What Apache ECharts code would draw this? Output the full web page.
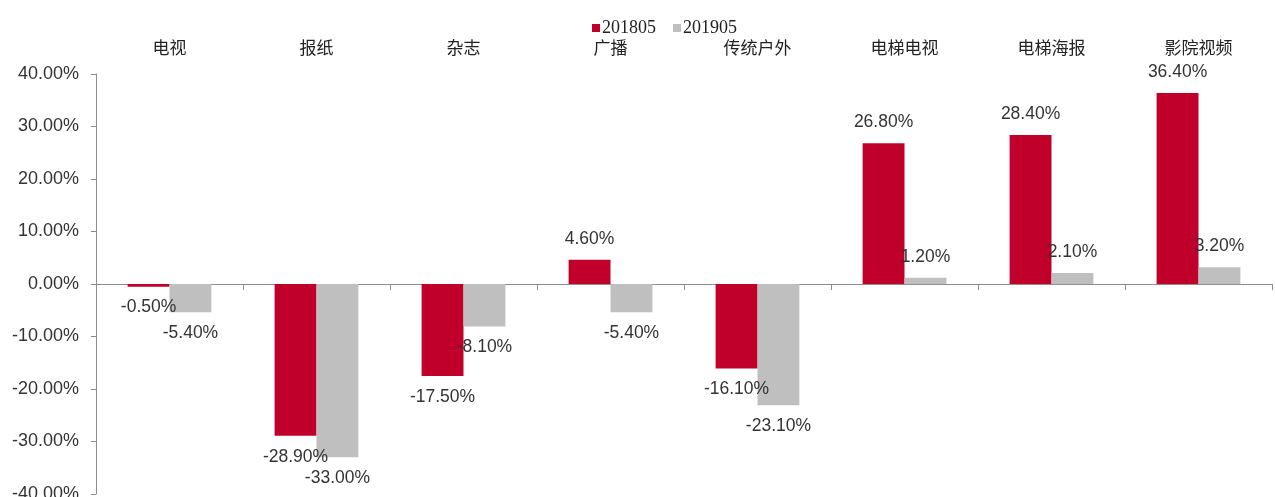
<!DOCTYPE html>
<html>
<head>
<meta charset="utf-8">
<script src="https://cdn.jsdelivr.net/npm/echarts@6/dist/echarts.min.js"></script>
<style>
  html, body { margin: 0; padding: 0; background: #fff; }
  #main { width: 1275px; height: 497px; }
</style>
</head>
<body>
<div id="main"></div>
<script>
// 类别
var categories = ["电视", "报纸", "杂志", "广播", "传统户外", "电梯电视", "电梯海报", "影院视频"];
// 同比增速 (%)
var val201805 = [-0.5, -28.9, -17.5, 4.6, -16.1, 26.8, 28.4, 36.4];
var val201905 = [-5.4, -33.0, -8.1, -5.4, -23.1, 1.2, 2.1, 3.2];
var yTicks = [-40, -30, -20, -10, 0, 10, 20, 30, 40];

// 正数标签在上，负数标签在下
function withLabel(arr) {
  return arr.map(function (v) {
    return { value: v, label: { position: v < 0 ? "bottom" : "top" } };
  });
}

var labelStyle = {
  show: true,
  distance: 12,
  color: "#333",
  fontSize: 17.5,
  fontFamily: "Liberation Sans, Arial, sans-serif",
  formatter: function (p) { return p.value.toFixed(2) + "%"; }
};

var option = {
  animation: false,
  legend: {
    left: 587,
    top: 14,
    itemWidth: 8,
    itemHeight: 8,
    itemGap: 17,
    icon: "rect",
    textStyle: { fontFamily: "Liberation Serif, Times New Roman, serif", fontSize: 18, color: "#222", padding: [0, 0, 0, -3] },
    data: ["201805", "201905"]
  },
  grid: { left: 96, right: 3, top: 74, bottom: 3, outerBoundsMode: "none", containLabel: false },
  xAxis: [
    {
      type: "category",
      data: categories,
      position: "bottom",
      axisLine: { onZero: true, lineStyle: { color: "#8c8c8c", width: 1 } },
      axisTick: { show: true, length: 6, lineStyle: { color: "#8c8c8c" } },
      axisLabel: { show: false }
    },
    {
      type: "category",
      data: categories,
      position: "top",
      axisLine: { show: false },
      axisTick: { show: false },
      axisLabel: {
        margin: 18,
        color: "#222",
        fontSize: 17,
        fontFamily: "Noto Sans CJK SC, sans-serif"
      }
    }
  ],
  yAxis: {
    type: "value",
    min: yTicks[0],
    max: yTicks[yTicks.length - 1],
    interval: 10,
    splitLine: { show: false },
    axisLine: { show: true, lineStyle: { color: "#8c8c8c" } },
    axisTick: { show: true, length: 5, lineStyle: { color: "#8c8c8c" } },
    axisLabel: {
      margin: 17,
      color: "#333",
      fontSize: 18,
      fontFamily: "Liberation Sans, Arial, sans-serif",
      formatter: function (v) { return v.toFixed(2) + "%"; }
    }
  },
  series: [
    {
      name: "201805",
      type: "bar",
      xAxisIndex: 0,
      barGap: "0%",
      barCategoryGap: "43%",
      itemStyle: { color: "#C0002B" },
      label: labelStyle,
      data: withLabel(val201805)
    },
    {
      name: "201905",
      type: "bar",
      xAxisIndex: 0,
      barGap: "0%",
      barCategoryGap: "43%",
      itemStyle: { color: "#BFBFBF" },
      label: labelStyle,
      data: withLabel(val201905)
    }
  ]
};

var myChart = echarts.init(document.getElementById("main"));
myChart.setOption(option);
</script>
</body>
</html>
